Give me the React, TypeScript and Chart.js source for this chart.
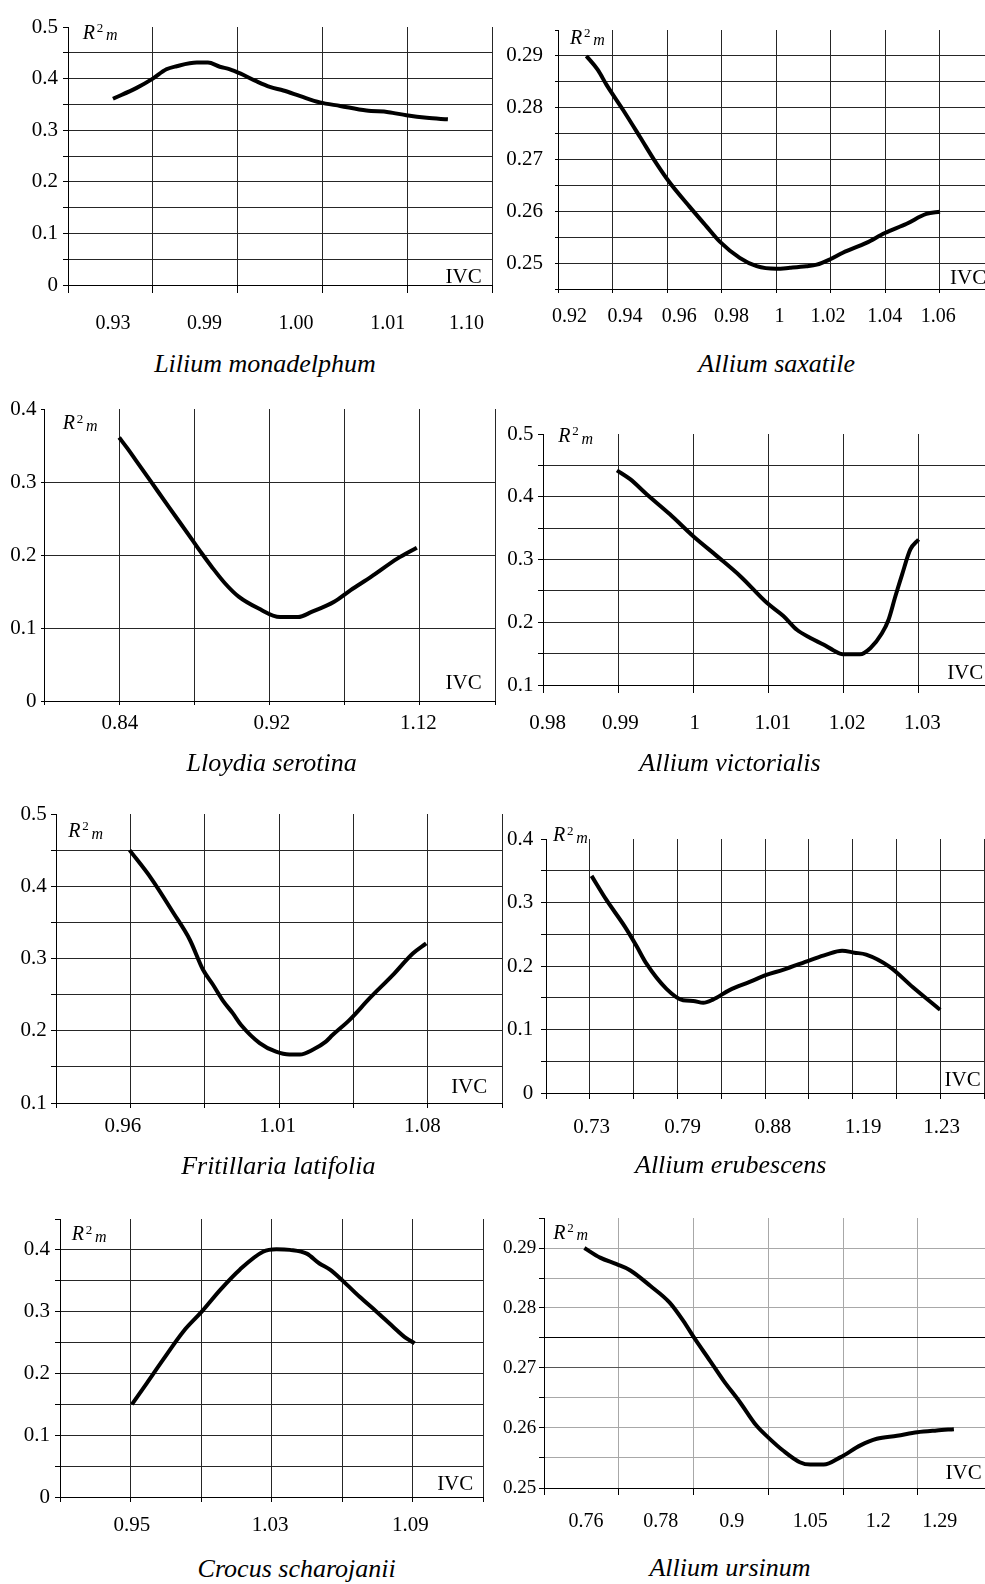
import React, { useEffect, useRef } from 'react';
import { Chart, registerables } from 'chart.js';

Chart.register(...registerables);

const FONT = '"Liberation Serif", "Times New Roman", serif';

// ---------------- data (x in grid-cell units, y = R²m) ----------------
const liliumIVC = ['0.93', '0.99', '1.00', '1.01', '1.10'];
const liliumIVCAt = [0.53, 1.61, 2.69, 3.77, 4.7];
const liliumYLabels = ['0', '0.1', '0.2', '0.3', '0.4', '0.5'];
const liliumX = [0.53, 0.81, 1.0, 1.16, 1.28, 1.52, 1.65, 1.79, 1.91, 2.03, 2.22, 2.38, 2.54, 2.74, 2.97, 3.21, 3.52, 3.78, 3.99, 4.23, 4.48];
const liliumR2 = [0.361, 0.382, 0.4, 0.418, 0.424, 0.431, 0.431, 0.423, 0.418, 0.41, 0.395, 0.384, 0.377, 0.366, 0.354, 0.347, 0.338, 0.335, 0.329, 0.324, 0.321];

const saxatileIVC = ['0.92', '0.94', '0.96', '0.98', '1', '1.02', '1.04', '1.06'];
const saxatileIVCAt = [0.21, 1.23, 2.22, 3.18, 4.06, 4.95, 5.99, 6.97];
const saxatileYLabels = ['0.25', '0.26', '0.27', '0.28', '0.29'];
const saxatileX = [0.52, 0.73, 0.89, 1.19, 1.5, 1.8, 2.05, 2.41, 2.72, 2.96, 3.33, 3.64, 4.0, 4.25, 4.55, 4.74, 4.98, 5.22, 5.65, 5.99, 6.39, 6.75, 7.0];
const saxatileR2 = [0.29, 0.2873, 0.2844, 0.2796, 0.2744, 0.2693, 0.2655, 0.2609, 0.2571, 0.2542, 0.251, 0.2494, 0.2489, 0.2491, 0.2494, 0.2497, 0.2507, 0.252, 0.2539, 0.2558, 0.2576, 0.2595, 0.2599];

const lloydiaIVC = ['0.84', '0.92', '1.12'];
const lloydiaIVCAt = [1.01, 3.03, 4.98];
const lloydiaYLabels = ['0', '0.1', '0.2', '0.3', '0.4'];
const lloydiaX = [1.0, 1.11, 1.22, 1.44, 1.66, 1.97, 2.1, 2.23, 2.41, 2.59, 2.85, 3.14, 3.38, 3.56, 3.86, 4.08, 4.35, 4.7, 4.96];
const lloydiaR2 = [0.361, 0.346, 0.33, 0.298, 0.266, 0.221, 0.202, 0.184, 0.161, 0.143, 0.127, 0.115, 0.115, 0.122, 0.136, 0.152, 0.17, 0.195, 0.21];

const victorialisIVC = ['0.98', '0.99', '1', '1.01', '1.02', '1.03'];
const victorialisIVCAt = [0.06, 1.03, 2.02, 3.06, 4.05, 5.05];
const victorialisYLabels = ['0.1', '0.2', '0.3', '0.4', '0.5'];
const victorialisX = [0.985, 1.16, 1.38, 1.69, 2.0, 2.32, 2.63, 2.98, 3.2, 3.38, 3.56, 3.74, 3.87, 3.99, 4.22, 4.36, 4.51, 4.6, 4.69, 4.78, 4.89, 5.0];
const victorialisR2 = [0.442, 0.428, 0.404, 0.372, 0.337, 0.305, 0.273, 0.231, 0.21, 0.188, 0.175, 0.164, 0.155, 0.149, 0.149, 0.159, 0.182, 0.204, 0.241, 0.276, 0.316, 0.332];

const fritillariaIVC = ['0.96', '1.01', '1.08'];
const fritillariaIVCAt = [0.9, 2.98, 4.93];
const fritillariaYLabels = ['0.1', '0.2', '0.3', '0.4', '0.5'];
const fritillariaX = [0.99, 1.28, 1.58, 1.8, 1.98, 2.11, 2.25, 2.38, 2.49, 2.74, 2.96, 3.14, 3.28, 3.46, 3.63, 3.72, 3.95, 4.22, 4.53, 4.8, 4.98];
const fritillariaR2 = [0.45, 0.411, 0.363, 0.326, 0.284, 0.264, 0.241, 0.224, 0.208, 0.183, 0.171, 0.167, 0.167, 0.174, 0.185, 0.194, 0.215, 0.245, 0.277, 0.307, 0.321];

const erubescensIVC = ['0.73', '0.79', '0.88', '1.19', '1.23'];
const erubescensIVCAt = [1.04, 3.12, 5.18, 7.24, 9.03];
const erubescensYLabels = ['0', '0.1', '0.2', '0.3', '0.4'];
const erubescensX = [1.04, 1.38, 1.8, 2.07, 2.29, 2.75, 3.13, 3.36, 3.59, 3.81, 4.19, 4.65, 5.03, 5.41, 6.02, 6.4, 6.76, 7.04, 7.31, 7.84, 8.37, 9.0];
const erubescensR2 = [0.342, 0.304, 0.262, 0.231, 0.204, 0.164, 0.146, 0.145, 0.142, 0.147, 0.162, 0.175, 0.186, 0.194, 0.209, 0.218, 0.224, 0.221, 0.218, 0.199, 0.167, 0.131];

const crocusIVC = ['0.95', '1.03', '1.09'];
const crocusIVCAt = [1.02, 2.98, 4.97];
const crocusYLabels = ['0', '0.1', '0.2', '0.3', '0.4'];
const crocusX = [1.02, 1.23, 1.46, 1.75, 2.01, 2.27, 2.55, 2.88, 3.07, 3.26, 3.5, 3.68, 3.83, 4.02, 4.25, 4.49, 4.72, 4.91, 5.03];
const crocusR2 = [0.15, 0.184, 0.222, 0.268, 0.3, 0.335, 0.368, 0.397, 0.401, 0.4, 0.394, 0.378, 0.368, 0.349, 0.324, 0.3, 0.276, 0.257, 0.249];

const ursinumIVC = ['0.76', '0.78', '0.9', '1.05', '1.2', '1.29'];
const ursinumIVCAt = [0.56, 1.56, 2.51, 3.56, 4.47, 5.29];
const ursinumYLabels = ['0.25', '0.26', '0.27', '0.28', '0.29'];
const ursinumX = [0.54, 0.75, 0.97, 1.15, 1.42, 1.68, 1.86, 2.02, 2.22, 2.4, 2.62, 2.84, 3.0, 3.2, 3.42, 3.56, 3.74, 3.96, 4.23, 4.45, 4.72, 4.99, 5.25, 5.48];
const ursinumR2 = [0.29, 0.2884, 0.2873, 0.2863, 0.2837, 0.2809, 0.2779, 0.2748, 0.2712, 0.2679, 0.2643, 0.2604, 0.2584, 0.2562, 0.2543, 0.2539, 0.2539, 0.2551, 0.2571, 0.2582, 0.2587, 0.2593, 0.2596, 0.2598];

// ---------------- series description ----------------
type Series = {
  title: string;
  x: number[];
  r2: number[];
  ivc: string[];
  ivcAt: number[];
  gridCount: number;
  xMax: number;
  yMin: number;
  yMax: number;
  yStep: number;
  yLabels: string[];
};

const SERIES: Series[] = [
  { title: 'Lilium monadelphum', x: liliumX, r2: liliumR2, ivc: liliumIVC, ivcAt: liliumIVCAt, gridCount: 5, xMax: 5, yMin: 0, yMax: 0.5, yStep: 0.05, yLabels: liliumYLabels },
  { title: 'Allium saxatile', x: saxatileX, r2: saxatileR2, ivc: saxatileIVC, ivcAt: saxatileIVCAt, gridCount: 7, xMax: 7.825, yMin: 0.245, yMax: 0.295, yStep: 0.005, yLabels: saxatileYLabels },
  { title: 'Lloydia serotina', x: lloydiaX, r2: lloydiaR2, ivc: lloydiaIVC, ivcAt: lloydiaIVCAt, gridCount: 6, xMax: 6, yMin: 0, yMax: 0.4, yStep: 0.1, yLabels: lloydiaYLabels },
  { title: 'Allium victorialis', x: victorialisX, r2: victorialisR2, ivc: victorialisIVC, ivcAt: victorialisIVCAt, gridCount: 5, xMax: 5.884, yMin: 0.1, yMax: 0.5, yStep: 0.05, yLabels: victorialisYLabels },
  { title: 'Fritillaria latifolia', x: fritillariaX, r2: fritillariaR2, ivc: fritillariaIVC, ivcAt: fritillariaIVCAt, gridCount: 6, xMax: 6, yMin: 0.1, yMax: 0.5, yStep: 0.05, yLabels: fritillariaYLabels },
  { title: 'Allium erubescens', x: erubescensX, r2: erubescensR2, ivc: erubescensIVC, ivcAt: erubescensIVCAt, gridCount: 10, xMax: 10, yMin: 0, yMax: 0.4, yStep: 0.05, yLabels: erubescensYLabels },
  { title: 'Crocus scharojanii', x: crocusX, r2: crocusR2, ivc: crocusIVC, ivcAt: crocusIVCAt, gridCount: 6, xMax: 6, yMin: 0, yMax: 0.45, yStep: 0.05, yLabels: crocusYLabels },
  { title: 'Allium ursinum', x: ursinumX, r2: ursinumR2, ivc: ursinumIVC, ivcAt: ursinumIVCAt, gridCount: 5, xMax: 5.896, yMin: 0.25, yMax: 0.295, yStep: 0.005, yLabels: ursinumYLabels },
];

// ---------------- layout (positions / styles) ----------------
type Layout = {
  plot: [number, number, number, number]; // left, top, right, bottom (page px)
  canvasLeft: number;
  padRight: number;
  xFont: number;
  yFont: number;
  xTick: number;
  xPad: number;
  yTick: number;
  yPad: number;
  grid: string;
  dark?: [number, string][];
  r2: [number, number];
  ivc: [number, number, 'start' | 'end'];
  caption: [number, number];
};

const LAYOUTS: Layout[] = [
  { plot: [68, 27, 492, 285], canvasLeft: 0, padRight: 2, xFont: 20, yFont: 21, xTick: 8, xPad: 18.7, yTick: 5, yPad: 5, grid: '#262626', r2: [82.7, 38.3], ivc: [481.7, 283.3, 'end'], caption: [265, 372.7] },
  { plot: [558, 30, 985, 289], canvasLeft: 490, padRight: 0, xFont: 20, yFont: 21, xTick: 4, xPad: 12.2, yTick: 3, yPad: 12, grid: '#262626', r2: [570, 43.3], ivc: [950, 285, 'start'], caption: [776.7, 372.7] },
  { plot: [44, 409, 495, 701], canvasLeft: 0, padRight: 2, xFont: 21, yFont: 21, xTick: 4, xPad: 6, yTick: 3, yPad: 4.6, grid: '#262626', r2: [62.7, 429], ivc: [481.7, 690, 'end'], caption: [271.7, 771.7] },
  { plot: [543, 434, 985, 685], canvasLeft: 490, padRight: 0, xFont: 21, yFont: 21, xTick: 8, xPad: 17.4, yTick: 5, yPad: 4.4, grid: '#262626', r2: [558.3, 441.7], ivc: [983.3, 680, 'end'], caption: [730, 771.7] },
  { plot: [56, 814, 502, 1103], canvasLeft: 0, padRight: 2, xFont: 21, yFont: 21, xTick: 5, xPad: 5.8, yTick: 5, yPad: 4.3, grid: '#262626', r2: [68.3, 836.7], ivc: [487.3, 1094, 'end'], caption: [278.3, 1175] },
  { plot: [546, 839, 984, 1093], canvasLeft: 495, padRight: 1, xFont: 21, yFont: 21, xTick: 6, xPad: 15.4, yTick: 5, yPad: 7.7, grid: '#262626', r2: [553, 841], ivc: [980.7, 1086.7, 'end'], caption: [730.7, 1173.3] },
  { plot: [60, 1219, 483, 1497], canvasLeft: 0, padRight: 2, xFont: 21, yFont: 21, xTick: 5, xPad: 10.7, yTick: 5, yPad: 5, grid: '#262626', r2: [71.7, 1240], ivc: [473.3, 1490.7, 'end'], caption: [296.7, 1577.3] },
  { plot: [544, 1218, 985, 1488], canvasLeft: 490, padRight: 0, xFont: 20, yFont: 19, xTick: 7, xPad: 15, yTick: 5, yPad: 2.7, grid: '#a8a8a8', dark: [[0.275, '#000'], [0.27, '#555']], r2: [553.3, 1238.3], ivc: [981.7, 1480, 'end'], caption: [730, 1576.7] },
];

const PAD_TOP = 14;
const X_AXIS_H = 50;
const CLEAR = 'rgba(0,0,0,0)';

function PanelChart({ s, L }: { s: Series; L: Layout }) {
  const ref = useRef<HTMLCanvasElement>(null);
  const [l, t, r, b] = L.plot;
  const cTop = t - PAD_TOP;
  const width = r - L.canvasLeft + L.padRight;
  const height = b - cTop + X_AXIS_H;
  const yAxisW = l - L.canvasLeft;

  useEffect(() => {
    const xt: { value: number; label: string; grid: boolean }[] = [];
    for (let i = 0; i <= s.gridCount; i++) xt.push({ value: i, label: '', grid: true });
    s.ivcAt.forEach((p, i) => xt.push({ value: p, label: s.ivc[i], grid: false }));
    xt.sort((a, c) => a.value - c.value);

    const yt: { value: number; label: string; top: boolean }[] = [];
    const n = Math.round((s.yMax - s.yMin) / s.yStep);
    for (let i = 0; i <= n; i++) {
      const v = +(s.yMin + i * s.yStep).toFixed(6);
      const lab = s.yLabels.find((q) => Math.abs(parseFloat(q) - v) < 1e-6) ?? '';
      yt.push({ value: v, label: lab, top: i === n });
    }
    const hColor = (v: number) => {
      if (L.dark) {
        for (const [dv, c] of L.dark) if (Math.abs(dv - v) < 1e-6) return c;
      }
      return L.grid;
    };

    const chart = new Chart(ref.current as HTMLCanvasElement, {
      type: 'line',
      data: {
        datasets: [
          {
            data: s.x.map((x, i) => ({ x, y: s.r2[i] })),
            borderColor: '#000',
            borderWidth: 4,
            pointRadius: 0,
            cubicInterpolationMode: 'monotone',
            fill: false,
          },
        ],
      },
      options: {
        responsive: false,
        maintainAspectRatio: false,
        animation: false,
        devicePixelRatio: 1,
        events: [],
        layout: { padding: { top: PAD_TOP, right: L.padRight, left: 0, bottom: 0 } },
        plugins: { legend: { display: false }, tooltip: { enabled: false }, title: { display: false } },
        scales: {
          x: {
            type: 'linear',
            min: 0,
            max: s.xMax,
            afterBuildTicks: (sc: any) => {
              sc.ticks = xt.map((q) => ({ value: q.value }));
            },
            afterFit: (sc: any) => {
              sc.height = X_AXIS_H;
              sc.paddingLeft = 0;
              sc.paddingRight = 0;
            },
            ticks: {
              autoSkip: false,
              maxRotation: 0,
              minRotation: 0,
              padding: L.xPad,
              color: '#000',
              font: { family: FONT, size: L.xFont },
              callback: (_v: any, i: number) => (xt[i] ? xt[i].label : ''),
            },
            grid: {
              color: (c: any) => (xt[c.index] && xt[c.index].grid ? L.grid : CLEAR),
              tickColor: (c: any) => (xt[c.index] && xt[c.index].grid ? '#000' : CLEAR),
              tickLength: L.xTick,
              lineWidth: 1,
            },
            border: { display: true, color: '#000', width: 1 },
          },
          y: {
            type: 'linear',
            min: s.yMin,
            max: s.yMax,
            afterBuildTicks: (sc: any) => {
              sc.ticks = yt.map((q) => ({ value: q.value }));
            },
            afterFit: (sc: any) => {
              sc.width = yAxisW;
              sc.paddingTop = 0;
              sc.paddingBottom = 0;
            },
            ticks: {
              autoSkip: false,
              padding: L.yPad,
              color: '#000',
              font: { family: FONT, size: L.yFont },
              callback: (_v: any, i: number) => (yt[i] ? yt[i].label : ''),
            },
            grid: {
              color: (c: any) => (yt[c.index] && !yt[c.index].top ? hColor(yt[c.index].value) : CLEAR),
              tickColor: '#000',
              tickLength: L.yTick,
              lineWidth: 1,
            },
            border: { display: true, color: '#000', width: 1 },
          },
        },
      },
    } as any);
    return () => chart.destroy();
  }, []);

  return (
    <canvas
      ref={ref}
      width={width}
      height={height}
      style={{ position: 'absolute', left: L.canvasLeft, top: cTop, width, height }}
    />
  );
}

function Txt({
  x,
  y,
  size,
  italic,
  anchor = 'start',
  children,
}: {
  x: number;
  y: number;
  size: number;
  italic?: boolean;
  anchor?: 'start' | 'middle' | 'end';
  children: React.ReactNode;
}) {
  const tr = anchor === 'middle' ? 'translateX(-50%)' : anchor === 'end' ? 'translateX(-100%)' : undefined;
  return (
    <span
      style={{
        position: 'absolute',
        left: x,
        top: y - 0.837 * size,
        fontSize: size,
        lineHeight: 1,
        fontStyle: italic ? 'italic' : 'normal',
        whiteSpace: 'nowrap',
        transform: tr,
        fontFamily: FONT,
        color: '#000',
        zIndex: 2,
      }}
    >
      {children}
    </span>
  );
}

function Panel({ s, L }: { s: Series; L: Layout }) {
  const [rx, rb] = L.r2;
  return (
    <>
      <PanelChart s={s} L={L} />
      <Txt x={rx} y={rb} size={20} italic>
        R
      </Txt>
      <Txt x={rx + 14} y={rb - 6.6} size={13}>
        2
      </Txt>
      <Txt x={rx + 23.3} y={rb + 2.4} size={16} italic>
        m
      </Txt>
      <Txt x={L.ivc[0]} y={L.ivc[1]} size={21} anchor={L.ivc[2]}>
        IVC
      </Txt>
      <Txt x={L.caption[0]} y={L.caption[1]} size={26} italic anchor="middle">
        {s.title}
      </Txt>
    </>
  );
}

export default function App() {
  return (
    <div
      style={{
        position: 'absolute',
        left: 0,
        top: 0,
        width: 985,
        height: 1584,
        overflow: 'hidden',
        background: '#fff',
        fontFamily: FONT,
      }}
    >
      {SERIES.map((s, i) => (
        <Panel key={i} s={s} L={LAYOUTS[i]} />
      ))}
    </div>
  );
}
